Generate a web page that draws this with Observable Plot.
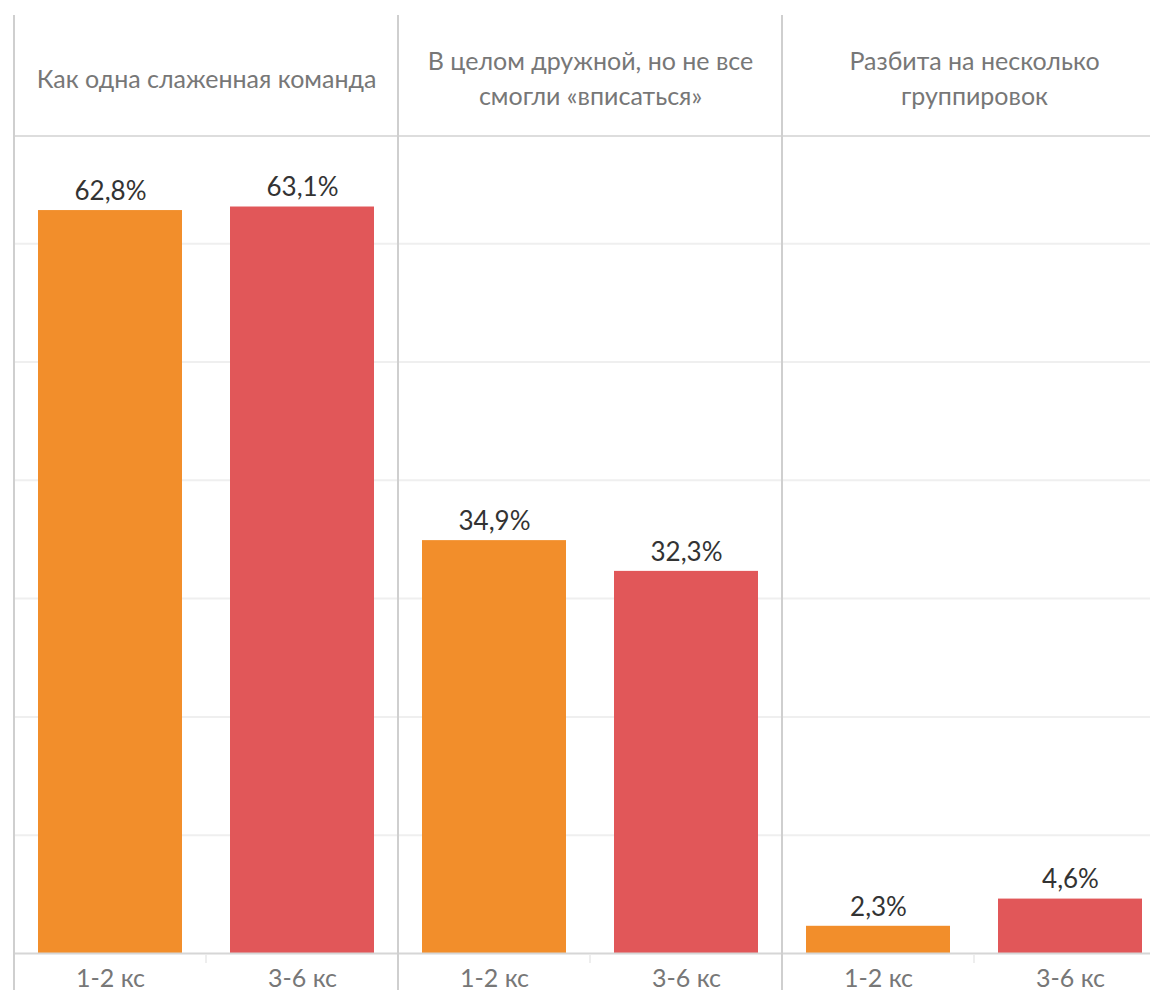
<!DOCTYPE html>
<html><head><meta charset="utf-8">
<script src="https://cdn.jsdelivr.net/npm/d3@7"></script>
<script src="https://cdn.jsdelivr.net/npm/@observablehq/plot@0.6"></script>
<style>
html,body{margin:0;padding:0;background:#fff;overflow:hidden;}
#chart{width:1150px;height:990px;overflow:hidden;}
#chart svg{max-width:none !important;}
</style></head><body><div id="chart"></div>
<script>
const answers = ["Как одна слаженная команда", "В целом дружной, но не все смогли «вписаться»", "Разбита на несколько группировок"];
const headerLabels = ["Как одна слаженная команда", "В целом дружной, но не все\nсмогли «вписаться»", "Разбита на несколько\nгруппировок"];
const groups = ["1-2 кс", "3-6 кс"];
const values12 = [62.8, 34.9, 2.3];
const values36 = [63.1, 32.3, 4.6];
const colors = ["#F28E2B", "#E15759"];
const gridTicks = [10, 20, 30, 40, 50, 60];

const data = answers.flatMap((a, i) => [
  {answer: a, group: groups[0], value: values12[i]},
  {answer: a, group: groups[1], value: values36[i]}
]);
const headers = answers.map((a, i) => ({answer: a, label: headerLabels[i]}));
const fmt = v => v.toFixed(1).replace(".", ",") + "%";

const W = 1166, H = 990, mL = 13, mT = 136, mB = 37;
const plot = Plot.plot({
  width: W, height: H, marginLeft: mL, marginRight: 0, marginTop: mT, marginBottom: mB,
  style: {fontFamily: "Lato, sans-serif", fontSize: "24px", background: "#fff", overflow: "visible", maxWidth: "none"},
  fx: {domain: answers, padding: 0, axis: null, label: null},
  x: {domain: groups, paddingInner: 0.25, paddingOuter: 0.12, axis: null, label: null},
  y: {domain: [0, 69.06], axis: null, label: null},
  color: {domain: groups, range: colors},
  marks: [
    Plot.gridY(gridTicks, {stroke: "#efefef", strokeOpacity: 1, strokeWidth: 2}),
    Plot.barY(data, {fx: "answer", x: "group", y: "value", fill: "group"}),
    Plot.ruleY([0], {stroke: "#d6d6d6", strokeWidth: 2}),
    Plot.text(data, {fx: "answer", x: "group", y: "value", text: d => fmt(d.value), dy: -19, fill: "#333", fontSize: 26, lineAnchor: "middle"}),
    Plot.axisX({anchor: "bottom", tickSize: 0, tickPadding: 16, fill: "#777", fontSize: 25, label: null}),
    Plot.text(headers, {fx: "answer", text: "label", frameAnchor: "top", dy: -60, lineAnchor: "middle", lineHeight: 1.4, fill: "#777", fontSize: 25})
  ]
});

const svg = d3.select(plot);
const fx = plot.scale("fx");
const g = svg.append("g");
g.append("line").attr("x1", mL).attr("x2", W).attr("y1", mT).attr("y2", mT)
  .attr("stroke", "#dddddd").attr("stroke-width", 2);
answers.forEach(a => {
  const x0 = fx.apply(a);
  g.append("line").attr("x1", x0).attr("x2", x0).attr("y1", 15).attr("y2", H)
    .attr("stroke", "#cfcfcf").attr("stroke-width", 2);
  const xm = x0 + fx.bandwidth / 2;
  g.append("line").attr("x1", xm).attr("x2", xm).attr("y1", H - mB + 2).attr("y2", H - mB + 10)
    .attr("stroke", "#e8e8e8").attr("stroke-width", 1.5);
});
document.getElementById("chart").appendChild(plot);
</script>
</body></html>
